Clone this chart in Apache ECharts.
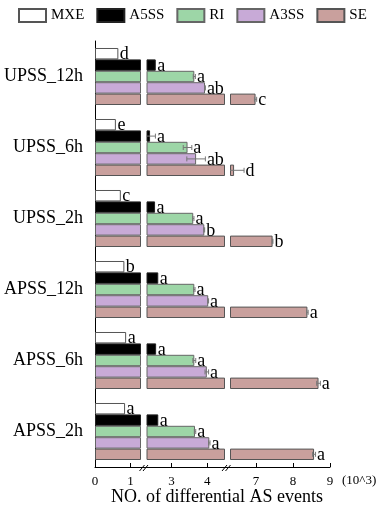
<!DOCTYPE html>
<html><head><meta charset="utf-8">
<script src="https://cdn.jsdelivr.net/npm/echarts@6/dist/echarts.min.js"></script>
<style>html,body{margin:0;padding:0;background:#fff}#c{width:381px;height:513px}</style>
</head><body><div id="c"></div>
<script>
// ---- data (values in 10^3 events) ----
const categories = ['UPSS_12h', 'UPSS_6h', 'UPSS_2h', 'APSS_12h', 'APSS_6h', 'APSS_2h'];
const seriesNames = ['MXE', 'A5SS', 'RI', 'A3SS', 'SE'];
const MXE  = [0.66, 0.59, 0.73, 0.83, 0.88, 0.85];
const A5SS = [2.56, 2.40, 2.54, 2.63, 2.57, 2.63];
const RI   = [3.64, 3.45, 3.61, 3.64, 3.64, 3.66];
const A3SS = [3.94, 3.69, 3.92, 4.03, 3.99, 4.06];
const SE   = [6.99, 6.41, 7.45, 8.39, 8.69, 8.57];
const errMXE  = [0, 0, 0, 0, 0, 0];
const errA5SS = [0, 0.15, 0, 0, 0, 0];
const errRI   = [0.03, 0.12, 0.02, 0.02, 0.04, 0.02];
const errA3SS = [0.01, 0.26, 0.01, 0.01, 0.05, 0.02];
const errSE   = [0.03, 0.27, 0.01, 0.02, 0.05, 0.04];
const letMXE  = ['d', 'e', 'c', 'b', 'a', 'a'];
const letA5SS = ['a', 'a', 'a', 'a', 'a', 'a'];
const letRI   = ['a', 'a', 'a', 'a', 'a', 'a'];
const letA3SS = ['ab', 'ab', 'b', 'a', 'a', 'a'];
const letSE   = ['c', 'd', 'b', 'a', 'a', 'a'];
const ticks1 = [0, 1];
const ticks2 = [3, 4];
const ticks3 = [7, 8, 9];
const unitLabel = '(10^3)';
const axisTitle = 'NO. of differential AS events';

// ---- layout / style ----
const values = [MXE, A5SS, RI, A3SS, SE];
const errs = [errMXE, errA5SS, errRI, errA3SS, errSE];
const lets = [letMXE, letA5SS, letRI, letA3SS, letSE];
const colors = ['#ffffff', '#000000', '#9dd6a7', '#c8aad7', '#c9a09d'];
const borders = ['#555555', '#222222', '#666666', '#666666', '#555555'];
const segs = [
  { min: 0, max: 1.3, left: 95, width: 46, ticks: ticks1 },
  { min: 2.3, max: 4.5, left: 146.5, width: 78.5, ticks: ticks2 },
  { min: 6.3, max: 9, left: 230, width: 100, ticks: ticks3 }
];
const GT = 41, GH = 426;
const gapRatio = 0.197;
const serif = 'Liberation Serif';

const grid = [], xAxis = [], yAxis = [], series = [];
segs.forEach((sg, gi) => {
  grid.push({ left: sg.left, top: GT, width: sg.width, height: GH });
  xAxis.push({
    gridIndex: gi, type: 'value', min: sg.min, max: sg.max, startValue: sg.min,
    axisLine: { show: true, lineStyle: { color: '#000', width: 1 } },
    axisTick: { show: true, inside: true, length: 4, customValues: sg.ticks, lineStyle: { color: '#000' } },
    axisLabel: { customValues: sg.ticks, color: '#000', fontSize: 13, fontFamily: serif, margin: 8 },
    splitLine: { show: false }
  });
  yAxis.push({
    gridIndex: gi, type: 'category', data: categories, inverse: true, show: gi === 0,
    axisLine: { show: true, lineStyle: { color: '#000', width: 1 } },
    axisTick: { show: false },
    axisLabel: { color: '#000', fontSize: 18, fontFamily: serif, margin: 12 }
  });
  values.forEach((vals, si) => {
    series.push({
      name: seriesNames[si], type: 'bar', xAxisIndex: gi, yAxisIndex: gi,
      barGap: '0%', barCategoryGap: (gapRatio * 100) + '%',
      itemStyle: { color: colors[si], borderColor: borders[si], borderWidth: 1 },
      emphasis: { disabled: true },
      data: vals.map(v => v > sg.min ? Math.min(v, sg.max) : '-')
    });
  });
  // error bars + significance letters for bars ending in this segment
  const items = [];
  values.forEach((vals, si) => vals.forEach((v, ci) => {
    if (v > sg.min && v <= sg.max) items.push([v, ci, si, errs[si][ci]]);
  }));
  series.push({
    name: 'marks' + gi, type: 'custom', xAxisIndex: gi, yAxisIndex: gi, clip: false, z: 5,
    data: items,
    renderItem: (params, api) => {
      const v = api.value(0), c = api.value(1), s = api.value(2), e = api.value(3);
      const p = api.coord([v, c]);
      const band = api.size([0, 1])[1];
      const used = band * (1 - gapRatio);
      const bw = used / 5;
      const y = p[1] - used / 2 + (s + 0.5) * bw;
      const ch = [];
      let endX = p[0];
      if (e > 0) {
        const loV = v - e;
        const lo = api.coord([Math.max(loV, sg.min), c])[0];
        const hi = api.coord([v + e, c])[0];
        const st = { stroke: '#777', lineWidth: 1 };
        ch.push({ type: 'line', shape: { x1: lo, y1: y, x2: hi, y2: y }, style: st });
        ch.push({ type: 'line', shape: { x1: hi, y1: y - 2.5, x2: hi, y2: y + 2.5 }, style: st });
        if (loV >= sg.min) ch.push({ type: 'line', shape: { x1: lo, y1: y - 2.5, x2: lo, y2: y + 2.5 }, style: st });
        endX = hi;
      }
      ch.push({ type: 'text', x: endX + 1.5, y: y + 1,
        style: { text: lets[s][c], fill: '#000', font: '18px ' + serif, align: 'left', verticalAlign: 'middle' } });
      return { type: 'group', children: ch };
    }
  });
});

const axY = GT + GH + 0.5;
const lineSt = { stroke: '#000', lineWidth: 1 };
const graphic = [
  { type: 'line', shape: { x1: 141, y1: axY, x2: 146.5, y2: axY }, style: lineSt },
  { type: 'line', shape: { x1: 225, y1: axY, x2: 230, y2: axY }, style: lineSt },
  { type: 'line', shape: { x1: 139.5, y1: axY + 3.5, x2: 144.5, y2: axY - 2.5 }, style: lineSt },
  { type: 'line', shape: { x1: 143, y1: axY + 3.5, x2: 148, y2: axY - 2.5 }, style: lineSt },
  { type: 'line', shape: { x1: 222, y1: axY + 3.5, x2: 227, y2: axY - 2.5 }, style: lineSt },
  { type: 'line', shape: { x1: 225.5, y1: axY + 3.5, x2: 230.5, y2: axY - 2.5 }, style: lineSt },
  { type: 'text', x: 342, y: 481, style: { text: unitLabel, fill: '#000', font: '13px ' + serif, verticalAlign: 'middle' } },
  { type: 'text', x: 217, y: 497, style: { text: axisTitle, fill: '#000', font: '18px ' + serif, align: 'center', verticalAlign: 'middle' } }
];

const chart = echarts.init(document.getElementById('c'));
chart.setOption({
  animation: false,
  backgroundColor: '#fff',
  legend: {
    data: seriesNames, left: 13, top: 3, itemWidth: 27, itemHeight: 13, itemGap: 12,
    icon: 'rect', textStyle: { color: '#000', fontSize: 15, fontFamily: serif }
  },
  grid, xAxis, yAxis, series, graphic
});
</script></body></html>
